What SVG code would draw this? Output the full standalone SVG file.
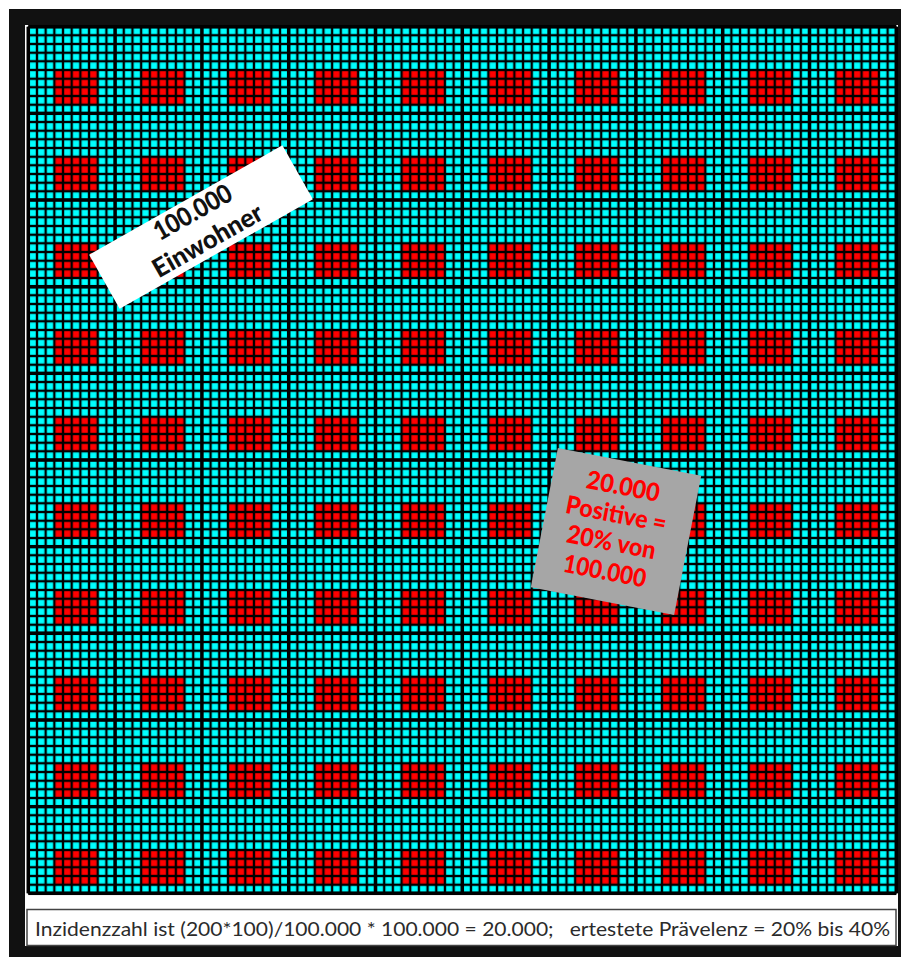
<svg xmlns="http://www.w3.org/2000/svg" width="901" height="957" viewBox="0 0 901 957">
<style>
.lbl{font-family:Lato,"Open Sans","Liberation Sans",sans-serif;font-weight:900;font-size:26px;text-anchor:middle}
.red{fill:#ff0000;font-size:25px}
.foot{font-family:Lato,"Open Sans","Liberation Sans",sans-serif;font-size:20px;fill:#2b2b2b}
</style>
<defs>
<mask id="rowMask" maskUnits="userSpaceOnUse" x="0" y="0" width="901" height="957">
<line x1="462.3" y1="70.03" x2="462.3" y2="893.3" stroke="#fff" stroke-width="868" stroke-dasharray="34.664 51.996"/>
</mask>
</defs>
<rect x="0" y="0" width="901" height="957" fill="#fff"/>
<rect x="9" y="9" width="892" height="948" fill="#111"/>
<rect x="25" y="25" width="873" height="921" fill="#fff"/>
<g id="grid">
<rect x="28.3" y="26.7" width="868" height="866.6" fill="#00ffff"/>
<line x1="54.34" y1="460" x2="896.3" y2="460" stroke="#ff0000" stroke-width="866.6" stroke-dasharray="43.4 43.4" mask="url(#rowMask)"/>
<line x1="26.3" y1="460" x2="898.3" y2="460" stroke="#000" stroke-opacity="0.2" stroke-width="866.6" stroke-dasharray="4 4.68"/>
<line x1="462.3" y1="24.7" x2="462.3" y2="895.3" stroke="#000" stroke-opacity="0.2" stroke-width="868" stroke-dasharray="4 4.666"/>
<line x1="27.3" y1="460" x2="897.3" y2="460" stroke="#000" stroke-width="866.6" stroke-dasharray="2 6.68"/>
<line x1="462.3" y1="25.7" x2="462.3" y2="894.3" stroke="#000" stroke-width="868" stroke-dasharray="2 6.666"/>
<line x1="26.6" y1="460" x2="898" y2="460" stroke="#000" stroke-width="866.6" stroke-dasharray="3.4 83.4"/>
<line x1="462.3" y1="25" x2="462.3" y2="895" stroke="#000" stroke-width="868" stroke-dasharray="3.4 83.26"/>
</g>
<g id="footer">
<rect x="27" y="909.5" width="869" height="36" fill="#fff" stroke="#444" stroke-width="1.5"/>
<text class="foot" x="35" y="936" textLength="855" lengthAdjust="spacingAndGlyphs" xml:space="preserve">Inzidenzzahl ist (200*100)/100.000 * 100.000 = 20.000;   ertestete Prävelenz = 20% bis 40%</text>
</g>
<g id="label-einwohner" transform="translate(201,227) rotate(-29.5)">
<rect x="-111" y="-31" width="222" height="62" fill="#fff"/>
<text class="lbl" x="0" y="-8" textLength="86" lengthAdjust="spacingAndGlyphs" fill="#111">100.000</text>
<text class="lbl" x="-1" y="24" textLength="122" lengthAdjust="spacingAndGlyphs" fill="#111">Einwohner</text>
</g>
<g id="label-positive" transform="translate(616,531.5) rotate(11)">
<rect x="-73" y="-71" width="146" height="142" fill="#a6a6a6"/>
<text class="lbl red" x="-1.5" y="-37" textLength="74" lengthAdjust="spacingAndGlyphs">20.000</text>
<text class="lbl red" x="-3" y="-8.5" textLength="102" lengthAdjust="spacingAndGlyphs">Positive =</text>
<text class="lbl red" x="-2.5" y="20" textLength="90" lengthAdjust="spacingAndGlyphs">20% von</text>
<text class="lbl red" x="-3.5" y="49.5" textLength="84" lengthAdjust="spacingAndGlyphs">100.000</text>
</g>
</svg>
